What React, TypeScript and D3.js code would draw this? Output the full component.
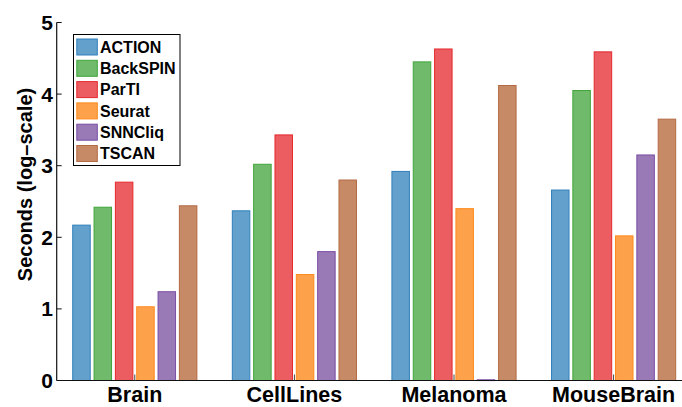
import React from "react";
import * as d3 from "d3";

// Runtime per dataset, log10 seconds
const datasets = ["Brain", "CellLines", "Melanoma", "MouseBrain"];
const methods = ["ACTION", "BackSPIN", "ParTI", "Seurat", "SNNCliq", "TSCAN"];
const ACTION = [2.17, 2.37, 2.92, 2.66];
const BackSPIN = [2.42, 3.02, 4.45, 4.05];
const ParTI = [2.77, 3.43, 4.63, 4.59];
const Seurat = [1.03, 1.48, 2.4, 2.02];
const SNNCliq = [1.24, 1.8, 0.01, 3.15];
const TSCAN = [2.44, 2.8, 4.12, 3.65];
const yTicks = [0, 1, 2, 3, 4, 5];

const seriesValues: number[][] = [ACTION, BackSPIN, ParTI, Seurat, SNNCliq, TSCAN];
const fills = ["#63a0cb", "#70bb6b", "#eb5d60", "#fda14a", "#9979b6", "#c68a67"];
const strokes = ["#2f7fbb", "#3ea53a", "#e4292c", "#ff8a1c", "#7a4ea6", "#b46a42"];

const W = 682;
const H = 407;
const FONT = "'Liberation Sans', Arial, Helvetica, sans-serif";

export default function App() {
  const x0 = d3.scaleBand<string>().domain(datasets).range([55, 693.4]).padding(0);
  const x1 = d3
    .scaleBand<string>()
    .domain(methods)
    .range([-64, 64])
    .paddingInner(0.18)
    .paddingOuter(0.09);
  const y = d3.scaleLinear().domain([0, 5]).range([380.5, 22.5]);
  const axisX = 56.7;

  return (
    <svg
      width={W}
      height={H}
      style={{ position: "absolute", left: 0, top: 0, background: "#fff" }}
      fontFamily={FONT}
    >
      {/* bars */}
      {datasets.map((ds, di) => {
        const cx = (x0(ds) as number) + x0.bandwidth() / 2;
        return (
          <g key={ds}>
            {methods.map((m, mi) => {
              const v = seriesValues[mi][di];
              const top = y(v);
              return (
                <rect
                  key={m}
                  x={cx + (x1(m) as number)}
                  y={top}
                  width={x1.bandwidth()}
                  height={Math.max(y(0) - top, 0.8)}
                  fill={fills[mi]}
                  stroke={strokes[mi]}
                  strokeWidth={1}
                />
              );
            })}
          </g>
        );
      })}

      {/* x axis */}
      <line x1={axisX} x2={W} y1={y(0)} y2={y(0)} stroke="#111" strokeWidth={1.2} />
      {datasets.map((ds) => {
        const cx = (x0(ds) as number) + x0.bandwidth() / 2;
        return (
          <g key={ds}>
            <line x1={cx} x2={cx} y1={y(0)} y2={y(0) - 6} stroke="#444" strokeWidth={1} />
            <text
              x={cx}
              y={402}
              textAnchor="middle"
              fontSize={21.5}
              fontWeight="bold"
              fill="#000"
            >
              {ds}
            </text>
          </g>
        );
      })}

      {/* y axis */}
      <line x1={axisX} x2={axisX} y1={y(5)} y2={y(0)} stroke="#111" strokeWidth={1.2} />
      {yTicks.map((t) => (
        <g key={t}>
          <line x1={axisX} x2={axisX + 5} y1={y(t)} y2={y(t)} stroke="#111" strokeWidth={1} />
          <text
            x={53}
            y={y(t)}
            dy="0.36em"
            textAnchor="end"
            fontSize={21}
            fontWeight="bold"
            fill="#000"
          >
            {t}
          </text>
        </g>
      ))}
      <text
        transform={`translate(32,184.5) rotate(-90)`}
        textAnchor="middle"
        fontSize={20}
        fontWeight="bold"
        fill="#000"
      >
        Seconds (log–scale)
      </text>

      {/* legend */}
      <rect x={73.5} y={34.5} width={106.5} height={131} fill="#fff" stroke="#000" strokeWidth={1} />
      {methods.map((m, i) => {
        const cy = 47 + i * 21.3;
        return (
          <g key={m}>
            <rect
              x={76.8}
              y={cy - 8}
              width={20.5}
              height={16}
              fill={fills[i]}
              stroke={strokes[i]}
              strokeWidth={1}
            />
            <text x={100} y={cy} dy="0.36em" fontSize={16} fontWeight="bold" fill="#000">
              {m}
            </text>
          </g>
        );
      })}
    </svg>
  );
}
